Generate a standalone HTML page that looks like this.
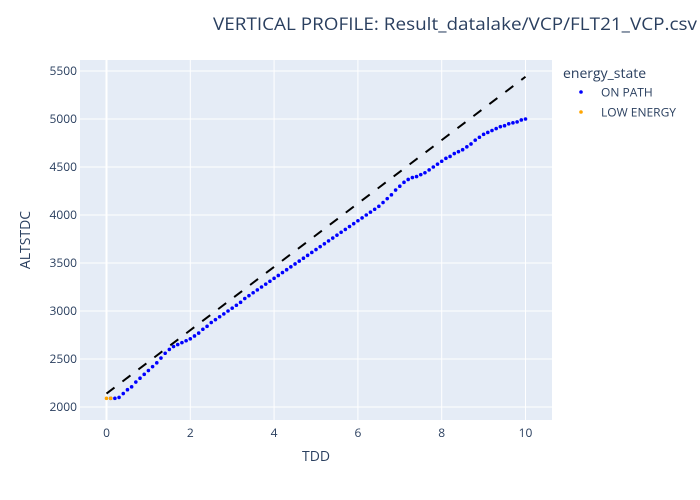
<!DOCTYPE html>
<html><head><meta charset="utf-8"><style>
html,body{margin:0;padding:0;background:#fff;}
svg{display:block;font-family:"Open Sans","Liberation Sans",sans-serif;}
</style></head><body>
<svg id="chart" width="700" height="500">
<rect x="0" y="0" width="700" height="500" fill="#fff"/>
<rect x="80" y="60" width="472" height="360" fill="#e5ecf6"/>
<g id="grid"></g>
<g id="marks"></g>
<g id="ticks"></g>
<text x="213" y="30" font-size="17" fill="#2a3f5f" textLength="484" lengthAdjust="spacingAndGlyphs">VERTICAL PROFILE: Result_datalake/VCP/FLT21_VCP.csv</text>
<text x="316" y="461" font-size="14" fill="#2a3f5f" text-anchor="middle">TDD</text>
<text x="30" y="240" font-size="14" fill="#2a3f5f" text-anchor="middle" transform="rotate(-90 30 240)">ALTSTDC</text>
<g>
<text x="563" y="78" font-size="14" fill="#2a3f5f">energy_state</text>
<g><circle cx="581" cy="92" r="1.8" fill="#0000ff"/><text x="601" y="96.5" font-size="12" fill="#2a3f5f">ON PATH</text></g>
<g><circle cx="581" cy="112" r="1.8" fill="#ffa500"/><text x="601" y="116.5" font-size="12" fill="#2a3f5f">LOW ENERGY</text></g>
</g>
</svg>
<script>
const xTicks=[0,2,4,6,8,10];
const yTicks=[2000,2500,3000,3500,4000,4500,5000,5500];
const onPathX=[0.1,0.2,0.3,0.4,0.5,0.6,0.7,0.8,0.9,1.0,1.1,1.2,1.3,1.4,1.5,1.6,1.7,1.8,1.9,2.0,2.1,2.2,2.3,2.4,2.5,2.6,2.7,2.8,2.9,3.0,3.1,3.2,3.3,3.4,3.5,3.6,3.7,3.8,3.9,4.0,4.1,4.2,4.3,4.4,4.5,4.6,4.7,4.8,4.9,5.0,5.1,5.2,5.3,5.4,5.5,5.6,5.7,5.8,5.9,6.0,6.1,6.2,6.3,6.4,6.5,6.6,6.7,6.8,6.9,7.0,7.1,7.2,7.3,7.4,7.5,7.6,7.7,7.8,7.9,8.0,8.1,8.2,8.3,8.4,8.5,8.6,8.7,8.8,8.9,9.0,9.1,9.2,9.3,9.4,9.5,9.6,9.7,9.8,9.9,10.0];
const onPathY=[2090,2090,2100,2140,2180,2210,2260,2300,2340,2380,2420,2460,2510,2560,2600,2630,2650,2670,2690,2710,2740,2770,2810,2840,2880,2910,2940,2970,3000,3030,3060,3090,3130,3160,3190,3220,3250,3280,3310,3340,3370,3400,3430,3460,3490,3520,3550,3580,3610,3640,3670,3700,3730,3760,3790,3820,3850,3880,3910,3940,3970,4000,4030,4060,4090,4130,4170,4210,4260,4300,4340,4370,4390,4400,4420,4440,4470,4500,4530,4560,4590,4610,4640,4660,4680,4710,4740,4780,4810,4840,4860,4880,4900,4920,4930,4950,4960,4970,4990,5000];
const lowEnergyX=[0.0,0.1];
const lowEnergyY=[2090,2090];
const refX=[0,10];
const refY=[2140,5440];

const NS='http://www.w3.org/2000/svg';
const xs=v=>106.5+v*41.9;
const ys=v=>407-(v-2000)*0.096;
function mk(tag,attrs,parent){const e=document.createElementNS(NS,tag);for(const k in attrs)e.setAttribute(k,attrs[k]);document.getElementById(parent).appendChild(e);return e;}

xTicks.forEach(t=>{
  const g=mk('line',{x1:xs(t),x2:xs(t),y1:60,y2:420,stroke:'#fff','stroke-width':t===0?2:1},'grid');
  
  
  const l=mk('text',{x:xs(t),y:437,'font-size':12,fill:'#2a3f5f','text-anchor':'middle'},'ticks');
  l.textContent=t;
  
  
});
yTicks.forEach(t=>{
  const g=mk('line',{x1:80,x2:552,y1:ys(t),y2:ys(t),stroke:'#fff','stroke-width':1},'grid');
  
  
  const l=mk('text',{x:77,y:ys(t)+4,'font-size':12,fill:'#2a3f5f','text-anchor':'end'},'ticks');
  l.textContent=t;
  
  
});
const ref=mk('line',{x1:xs(refX[0]),y1:ys(refY[0]),x2:xs(refX[1]),y2:ys(refY[1]),stroke:'#000','stroke-width':2,'stroke-dasharray':'10,10'},'marks');


onPathX.forEach((x,i)=>{
  const c=mk('circle',{cx:xs(x),cy:ys(onPathY[i]),r:1.8,fill:'#0000ff'},'marks');
  
  
});
lowEnergyX.forEach((x,i)=>{
  const c=mk('circle',{cx:xs(x),cy:ys(lowEnergyY[i]),r:1.8,fill:'#ffa500'},'marks');
  
  
});
</script>
</body></html>
